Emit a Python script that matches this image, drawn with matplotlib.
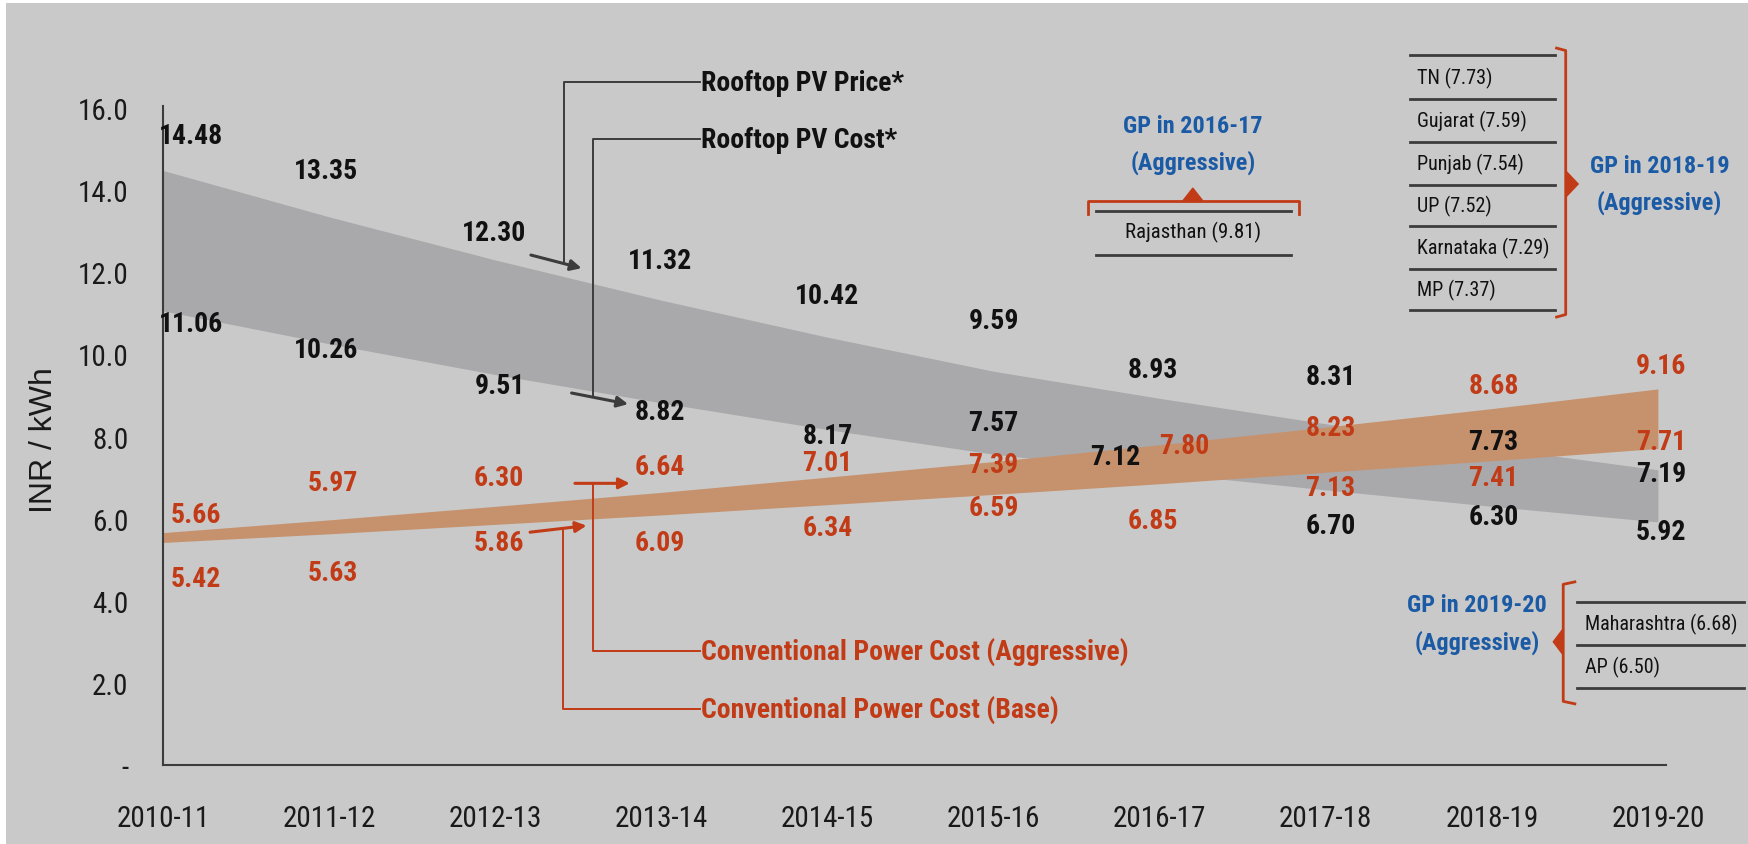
import matplotlib
matplotlib.use('Agg')
import matplotlib.pyplot as plt
from matplotlib.patches import Polygon, Rectangle
from matplotlib import font_manager
from matplotlib.font_manager import FontProperties

# data
years = ['2010-11', '2011-12', '2012-13', '2013-14', '2014-15',
         '2015-16', '2016-17', '2017-18', '2018-19', '2019-20']
pv_price = [14.48, 13.35, 12.30, 11.32, 10.42, 9.59, 8.93, 8.31, 7.73, 7.19]
pv_cost = [11.06, 10.26, 9.51, 8.82, 8.17, 7.57, 7.12, 6.70, 6.30, 5.92]
conv_aggr = [5.66, 5.97, 6.30, 6.64, 7.01, 7.39, 7.80, 8.23, 8.68, 9.16]
conv_base = [5.42, 5.63, 5.86, 6.09, 6.34, 6.59, 6.85, 7.13, 7.41, 7.71]

gp_2016 = ['Rajasthan (9.81)']
gp_2018 = ['TN (7.73)', 'Gujarat (7.59)', 'Punjab (7.54)', 'UP (7.52)',
           'Karnataka (7.29)', 'MP (7.37)']
gp_2019 = ['Maharashtra (6.68)', 'AP (6.50)']

yticks = [0, 2, 4, 6, 8, 10, 12, 14, 16]
ytick_labels = ['-', '2.0', '4.0', '6.0', '8.0', '10.0', '12.0', '14.0', '16.0']

# label placement (x, y) in data units
price_lbl_pos = [(0.17, 15.34), (0.98, 14.47), (1.99, 12.98), (2.99, 12.28), (4.0, 11.43),
                 (5.0, 10.82), (5.96, 9.64), (7.03, 9.45), (8.01, 7.87), (9.02, 7.09)]
cost_lbl_pos = [(0.17, 10.76), (0.98, 10.13), (2.03, 9.24), (2.99, 8.60), (4.0, 8.02),
                (5.0, 8.35), (5.73, 7.51), (7.03, 5.83), (8.01, 6.04), (9.02, 5.68)]
aggr_lbl_pos = [(0.20, 6.11), (1.02, 6.88), (2.02, 7.0), (2.99, 7.27), (4.0, 7.37),
                (5.0, 7.33), (6.15, 7.78), (7.03, 8.21), (8.01, 9.24), (9.02, 9.72)]
base_lbl_pos = [(0.20, 4.53), (1.02, 4.70), (2.02, 5.41), (2.99, 5.42), (4.0, 5.79),
                (5.0, 6.28), (5.96, 5.95), (7.03, 6.77), (8.01, 6.99), (9.02, 7.89)]

# colours
BG = '#c9c9c9'
GREY_BAND = '#a9a9ab'
ORANGE_BAND = '#c6926d'
RED = '#c23b17'
BLUE = '#1b5aa5'
DARK = '#111111'
LINE = '#3c3c3c'


# look for a narrow / condensed face, the chart uses an Arial Narrow look
def find_narrow(bold):
    prefs = ['Liberation Sans Narrow', 'Roboto Condensed', 'DejaVu Sans Condensed',
             'Noto Sans', 'Open Sans', 'Roboto', 'Inter', 'Lato']
    best = None
    for f in font_manager.fontManager.ttflist:
        st = str(f.stretch).lower()
        narrow = ('narrow' in f.name.lower() or 'condensed' in f.name.lower()
                  or st in ('condensed', 'semi-condensed'))
        if not narrow or f.style != 'normal':
            continue
        w = f.weight if isinstance(f.weight, int) else font_manager.weight_dict.get(f.weight, 400)
        rank = prefs.index(f.name) if f.name in prefs else len(prefs)
        key = (abs(w - (700 if bold else 400)), rank)
        if best is None or key < best[0]:
            best = (key, f.fname)
    return best[1] if best else None


reg_file = find_narrow(False)
bold_file = find_narrow(True)
SCALE = 1.0 if reg_file else 0.82


def fp(size, bold=False):
    f = bold_file if bold else reg_file
    if f:
        return FontProperties(fname=f, size=size * SCALE)
    return FontProperties(family=['Liberation Sans', 'DejaVu Sans'], size=size * SCALE,
                          weight='bold' if bold else 'normal')


fig = plt.figure(figsize=(17.48, 8.45), dpi=100, facecolor='white')
fig.patches.append(Rectangle((6 / 1748, 0), 1, 1 - 4 / 845, transform=fig.transFigure,
                             facecolor=BG, edgecolor='none', zorder=-10))

# axes placed so that x=0 sits at 163px and y=0 at 766px
xmax, ymax = 9.05, 16.05
ax = fig.add_axes([163 / 1748, 79 / 845, xmax * 166.1 / 1748, ymax * 41.06 / 845])
ax.set_facecolor('none')
ax.set_xlim(0, xmax)
ax.set_ylim(0, ymax)

x = list(range(len(years)))
ax.fill_between(x, pv_cost, pv_price, color=GREY_BAND, lw=0, zorder=1)
ax.fill_between(x, conv_base, conv_aggr, color=ORANGE_BAND, lw=0, zorder=2)

for vals, pos, col in [(pv_price, price_lbl_pos, DARK), (pv_cost, cost_lbl_pos, DARK),
                       (conv_aggr, aggr_lbl_pos, RED), (conv_base, base_lbl_pos, RED)]:
    for v, (px, py) in zip(vals, pos):
        ax.text(px, py, f'{v:.2f}', color=col, fontproperties=fp(20, True),
                ha='center', va='center', zorder=5)

# axes styling
for s in ['top', 'right']:
    ax.spines[s].set_visible(False)
for s in ['left', 'bottom']:
    ax.spines[s].set_color(LINE)
    ax.spines[s].set_linewidth(1.5)
ax.set_xticks(x)
ax.set_xticklabels(years, fontproperties=fp(21), color='#1a1a1a')
ax.set_yticks(yticks)
ax.set_yticklabels(ytick_labels, fontproperties=fp(21), color='#1a1a1a')
ax.tick_params(axis='x', length=0, pad=28)
ax.tick_params(axis='y', length=0, pad=25)
fig.text(44 / 1748, 1 - 440 / 845, 'INR / kWh', rotation=90, fontsize=23,
         family=['Liberation Sans', 'DejaVu Sans'], color='#1a1a1a', ha='center', va='center')


def connector(pts, arrow, col, text, ty):
    xs, ys = zip(*pts)
    ax.plot(xs, ys, color=col, lw=1.4, clip_on=False, zorder=4)
    ax.annotate('', xy=arrow[1], xytext=arrow[0],
                arrowprops=dict(arrowstyle='-|>', color=col, lw=2.2,
                                mutation_scale=16, shrinkA=0, shrinkB=0), zorder=4)
    ax.text(3.24, ty, text, color='#111111' if col == LINE else col,
            fontproperties=fp(20, True), ha='left', va='center', zorder=5)


connector([(3.23, 16.63), (2.414, 16.63), (2.414, 12.25)],
          [(2.215, 12.42), (2.52, 12.10)], LINE, 'Rooftop PV Price*', 16.63)
connector([(3.23, 15.24), (2.59, 15.24), (2.59, 9.0)],
          [(2.46, 9.06), (2.80, 8.79)], LINE, 'Rooftop PV Cost*', 15.24)
connector([(3.23, 2.78), (2.59, 2.78), (2.59, 6.86)],
          [(2.48, 6.86), (2.81, 6.86)], RED, 'Conventional Power Cost (Aggressive)', 2.78)
connector([(3.23, 1.36), (2.41, 1.36), (2.41, 5.75)],
          [(2.21, 5.67), (2.55, 5.83)], RED, 'Conventional Power Cost (Base)', 1.36)


def hline(x0, x1, y):
    ax.plot([x0, x1], [y, y], color=LINE, lw=2, clip_on=False, zorder=4)


def blue(xc, y1, y2, first):
    ax.text(xc, y1, first, color=BLUE, fontproperties=fp(17.5, True),
            ha='center', va='center')
    ax.text(xc, y2, '(Aggressive)', color=BLUE, fontproperties=fp(17.5, True),
            ha='center', va='center')


# GP in 2016-17
blue(6.20, 15.57, 14.69, 'GP in 2016-17')
ax.plot([5.57, 5.57, 6.84, 6.84], [13.42, 13.74, 13.74, 13.42], color=RED, lw=2,
        clip_on=False, zorder=4)
ax.add_patch(Polygon([(6.14, 13.74), (6.26, 13.74), (6.20, 14.05)], closed=True,
                     color=RED, clip_on=False, zorder=4))
hline(5.62, 6.79, 13.50)
hline(5.62, 6.79, 12.42)
ax.text(6.20, 12.99, gp_2016[0], fontproperties=fp(15), color=DARK, ha='center', va='center')

# GP in 2018-19
rows = [17.29, 16.22, 15.18, 14.13, 13.12, 12.07, 11.07]
for yy in rows:
    hline(7.51, 8.38, yy)
for i, name in enumerate(gp_2018):
    ax.text(7.55, (rows[i] + rows[i + 1]) / 2, name, fontproperties=fp(14.5), color=DARK,
            ha='left', va='center')
ax.plot([8.39, 8.445, 8.445, 8.39], [17.46, 17.40, 10.97, 10.91], color=RED, lw=2,
        clip_on=False, zorder=4)
ax.add_patch(Polygon([(8.445, 14.47), (8.445, 13.83), (8.52, 14.15)], closed=True,
                     color=RED, clip_on=False, zorder=4))
blue(9.01, 14.60, 13.71, 'GP in 2018-19')

# GP in 2019-20
blue(7.91, 3.90, 2.99, 'GP in 2019-20')
ax.plot([8.50, 8.43, 8.43, 8.50], [4.46, 4.40, 1.55, 1.49], color=RED, lw=2,
        clip_on=False, zorder=4)
ax.add_patch(Polygon([(8.43, 3.32), (8.43, 2.68), (8.37, 3.0)], closed=True,
                     color=RED, clip_on=False, zorder=4))
rows2 = [3.98, 2.92, 1.87]
for yy in rows2:
    hline(8.51, 9.52, yy)
for i, name in enumerate(gp_2019):
    ax.text(8.56, (rows2[i] + rows2[i + 1]) / 2, name, fontproperties=fp(14.5), color=DARK,
            ha='left', va='center')

fig.savefig('out.png', dpi=100, facecolor=fig.get_facecolor())
